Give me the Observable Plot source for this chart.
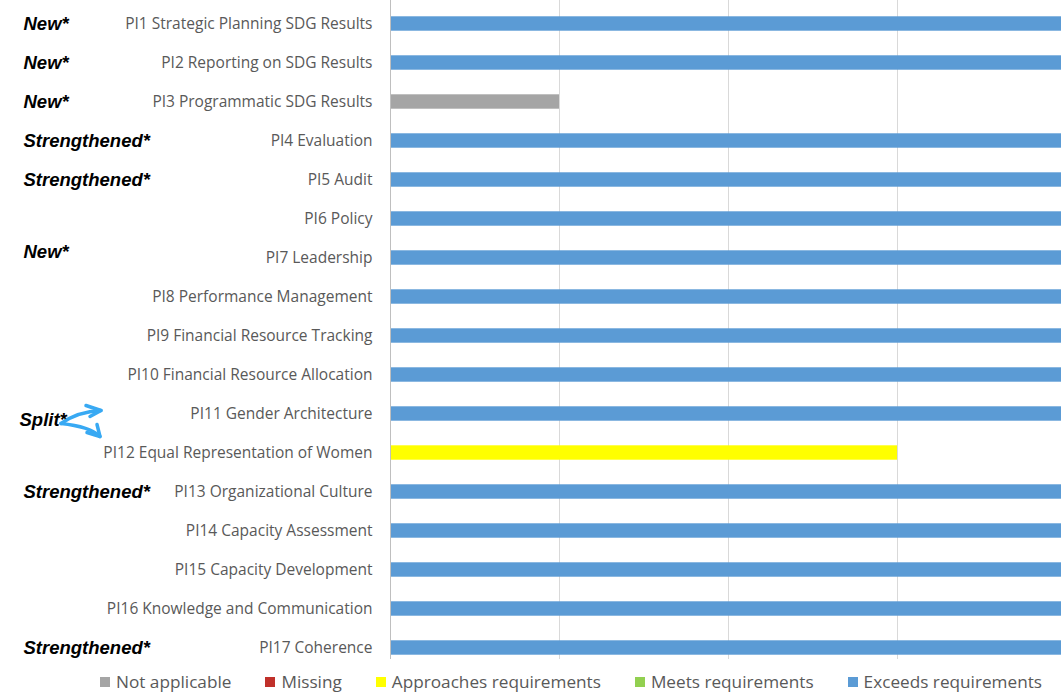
<!DOCTYPE html>
<html>
<head>
<meta charset="utf-8">
<script src="https://cdn.jsdelivr.net/npm/d3@7"></script>
<script src="https://cdn.jsdelivr.net/npm/@observablehq/plot@0.6"></script>
<style>
  body { margin: 0; background: #fff; }
  #chart svg { display: block; }
  .legend { display: flex; align-items: center; height: 25px; padding-left: 100px; gap: 34px;
            font-family: "Open Sans", sans-serif; font-size: 17.2px; color: #595959; }
  .legend .item { display: flex; align-items: center; gap: 6px; }
  .legend .sw { width: 10px; height: 10px; display: inline-block; }
</style>
</head>
<body>
<div id="chart"></div>
<script>
const categories = [
  "PI1 Strategic Planning SDG Results",
  "PI2 Reporting on SDG Results",
  "PI3 Programmatic SDG Results",
  "PI4 Evaluation",
  "PI5 Audit",
  "PI6 Policy",
  "PI7 Leadership",
  "PI8 Performance Management",
  "PI9 Financial Resource Tracking",
  "PI10 Financial Resource Allocation",
  "PI11 Gender Architecture",
  "PI12 Equal Representation of Women",
  "PI13 Organizational Culture",
  "PI14 Capacity Assessment",
  "PI15 Capacity Development",
  "PI16 Knowledge and Communication",
  "PI17 Coherence"
];
const ratings = [
  "Exceeds requirements", "Exceeds requirements", "Not applicable", "Exceeds requirements",
  "Exceeds requirements", "Exceeds requirements", "Exceeds requirements", "Exceeds requirements",
  "Exceeds requirements", "Exceeds requirements", "Exceeds requirements", "Approaches requirements",
  "Exceeds requirements", "Exceeds requirements", "Exceeds requirements", "Exceeds requirements",
  "Exceeds requirements"
];
const values = [4, 4, 1, 4, 4, 4, 4, 4, 4, 4, 4, 3, 4, 4, 4, 4, 4];
const legendLabels = ["Not applicable", "Missing", "Approaches requirements", "Meets requirements", "Exceeds requirements"];
const legendColors = ["#a5a5a5", "#c0302a", "#ffff00", "#92d050", "#5b9bd5"];
const gridTicks = [1, 2, 3, 4];
const notes = [
  {cat: "PI1 Strategic Planning SDG Results", label: "New*"},
  {cat: "PI2 Reporting on SDG Results", label: "New*"},
  {cat: "PI3 Programmatic SDG Results", label: "New*"},
  {cat: "PI4 Evaluation", label: "Strengthened*"},
  {cat: "PI5 Audit", label: "Strengthened*"},
  {cat: "PI13 Organizational Culture", label: "Strengthened*"},
  {cat: "PI17 Coherence", label: "Strengthened*"}
];
const leadershipNote = {cat: "PI7 Leadership", label: "New*"};
const splitNote = {from: "PI11 Gender Architecture", to: ["PI11 Gender Architecture", "PI12 Equal Representation of Women"], label: "Split*"};

const data = categories.map((c, i) => ({cat: c, value: values[i], rating: ratings[i]}));

const arrows = (index, scales) => {
  const y = scales.y;
  const half = y.bandwidth() / 2;
  const y11 = y(splitNote.to[0]) + half;
  const y12 = y(splitNote.to[1]) + half;
  const g = d3.create("svg:g")
    .attr("fill", "none")
    .attr("stroke", "#38a9f3")
    .attr("stroke-width", 3.5)
    .attr("stroke-linecap", "round")
    .attr("stroke-linejoin", "round");
  const sx = 61, sy = y11 + 10;
  g.append("path").attr("d", `M${sx},${sy} Q78,${y11 - 2} 101,${y11 - 3}`);
  g.append("path").attr("d", `M86,${y11 - 8} L101,${y11 - 3} L90,${y11 + 3}`);
  g.append("path").attr("d", `M${sx},${sy} Q90,${sy + 3} 100,${y12 - 16}`);
  g.append("path").attr("d", `M87,${y12 - 20} L100,${y12 - 16} L97,${y12 - 28}`);
  return g.node();
};

const noteStyle = {text: "label", frameAnchor: "left", textAnchor: "start",
                   fontSize: 18.5, fontWeight: "bold", fontStyle: "italic",
                   fontFamily: "Liberation Sans", fill: "#000"};

const chart = Plot.plot({
  width: 1061,
  height: 669,
  marginLeft: 390,
  marginRight: 0,
  marginTop: 2,
  marginBottom: 0,
  style: {background: "#fff", overflow: "hidden"},
  x: {domain: [0, 4], range: [390, 1066], axis: null},
  y: {domain: categories, padding: 0, label: null},
  color: {domain: legendLabels, range: legendColors},
  marks: [
    Plot.gridX(gridTicks, {stroke: "#d9d9d9", strokeOpacity: 1, strokeWidth: 1, insetTop: -2, insetBottom: 10}),
    Plot.barX(data, {x: "value", y: "cat", fill: "rating", insetTop: 12.3, insetBottom: 12.3}),
    Plot.ruleX([0], {stroke: "#bfbfbf", insetTop: -2, insetBottom: 10}),
    Plot.axisY({tickSize: 0, tickPadding: 18, fontSize: 15.5, fill: "#595959",
                fontFamily: "Open Sans", label: null}),
    Plot.text(notes, {y: "cat", dx: -367, ...noteStyle}),
    Plot.text([leadershipNote], {y: "cat", dx: -367, dy: -6, ...noteStyle}),
    Plot.text([splitNote], {y: "from", dx: -371, dy: 6, ...noteStyle}),
    arrows
  ]
});
document.getElementById("chart").appendChild(chart);

const legend = d3.select("body").append("div").attr("class", "legend");
legendLabels.forEach((l, i) => {
  const it = legend.append("div").attr("class", "item");
  it.append("span").attr("class", "sw").style("background", legendColors[i]);
  it.append("span").text(l);
});
</script>
</body>
</html>
